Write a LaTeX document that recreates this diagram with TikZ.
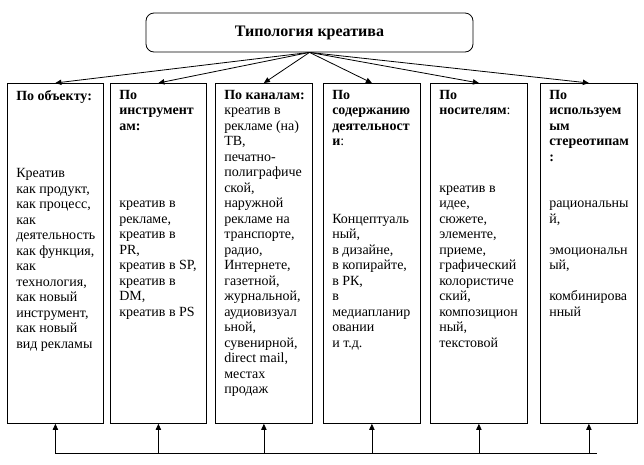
\documentclass[tikz,border=0pt]{standalone}
\usepackage{fontspec}
\setmainfont{Liberation Serif}
\usetikzlibrary{arrows.meta,positioning}

\begin{document}
\begin{tikzpicture}[x=0.75pt,y=-0.75pt,
        col/.style={draw,line width=0.6pt,anchor=north west,minimum height=255pt,inner sep=0pt},
        txt/.style={anchor=north west,align=left,inner sep=0pt,
                    font=\fontsize{10.5}{11.625}\selectfont},
        arr/.style={-{Triangle[length=4.5pt,width=4pt]},line width=0.6pt}
      ]
        \useasboundingbox (0,0) rectangle (644,465);
        \node[draw,line width=0.6pt,rounded corners=6pt,minimum width=245.25pt,minimum height=29.25pt,
              font=\bfseries\fontsize{12}{14}\selectfont] (T) at (309.5,32.5) {Типология креатива};
        \node[col,minimum width=72pt] (b1) at (7,83) {};
        \node[col,minimum width=72pt] (b2) at (110,83) {};
        \node[col,minimum width=72.75pt] (b3) at (215,83) {};
        \node[col,minimum width=72.75pt] (b4) at (323,83) {};
        \node[col,minimum width=72.75pt] (b5) at (430,83) {};
        \node[col,minimum width=72.75pt] (b6) at (540,83) {};
        \node[txt] (t1) at ([shift={(9,7)}]b1.north west) {\textbf{По объекту:}\\[4\baselineskip]
          Креатив\\ как продукт,\\ как процесс,\\ как\\ деятельность\\ как функция,\\ как\\
          технология,\\ как новый\\ инструмент,\\ как новый\\ вид рекламы};
        \node[txt] (t2) at ([shift={(9,7)}]b2.north west) {\textbf{По}\\ \textbf{инструмент}\\
          \textbf{ам:}\\[4\baselineskip] креатив в\\ рекламе,\\ креатив в\\ PR,\\ креатив в SP,\\
          креатив в\\ DM,\\ креатив в PS};
        \node[txt] (t3) at ([shift={(9,7)}]b3.north west) {\textbf{По каналам:}\\ креатив в\\
          рекламе (на)\\ ТВ,\\ печатно-\\ полиграфиче\\ ской,\\ наружной\\ рекламе на\\ транспорте,\\
          радио,\\ Интернете,\\ газетной,\\ журнальной,\\ аудиовизуал\\ ьной,\\ сувенирной,\\
          direct mail,\\ местах\\ продаж};
        \node[txt] (t4) at ([shift={(9,7)}]b4.north west) {\textbf{По}\\ \textbf{содержанию}\\
          \textbf{деятельност}\\ \textbf{и}:\\[4\baselineskip] Концептуаль\\ ный,\\ в дизайне,\\
          в копирайте,\\ в РК,\\ в\\ медиапланир\\ овании\\ и т.д.};
        \node[txt] (t5) at ([shift={(9,7)}]b5.north west) {\textbf{По}\\ \textbf{носителям}:\\[4\baselineskip]
          креатив в\\ идее,\\ сюжете,\\ элементе,\\ приеме,\\ графический\\ колористиче\\ ский,\\
          композицион\\ ный,\\ текстовой};
        \node[txt] (t6) at ([shift={(9,7)}]b6.north west) {\textbf{По}\\ \textbf{используем}\\
          \textbf{ым}\\ \textbf{стереотипам}\\ \textbf{:}\\[2\baselineskip] рациональны\\ й,\\[\baselineskip]
          эмоциональн\\ ый,\\[\baselineskip] комбинирова\\ нный};
        \coordinate (busL) at (55,453);
        \coordinate (busR) at (597,453);
        \draw[line width=0.6pt] (busL) -- (busR);
        \foreach \i in {1,...,6} \draw[arr] (T.south) -- (b\i.north);
        \foreach \i in {1,...,6} \draw[arr] (b\i.south |- busL) -- (b\i.south);
      \end{tikzpicture}
\end{document}
